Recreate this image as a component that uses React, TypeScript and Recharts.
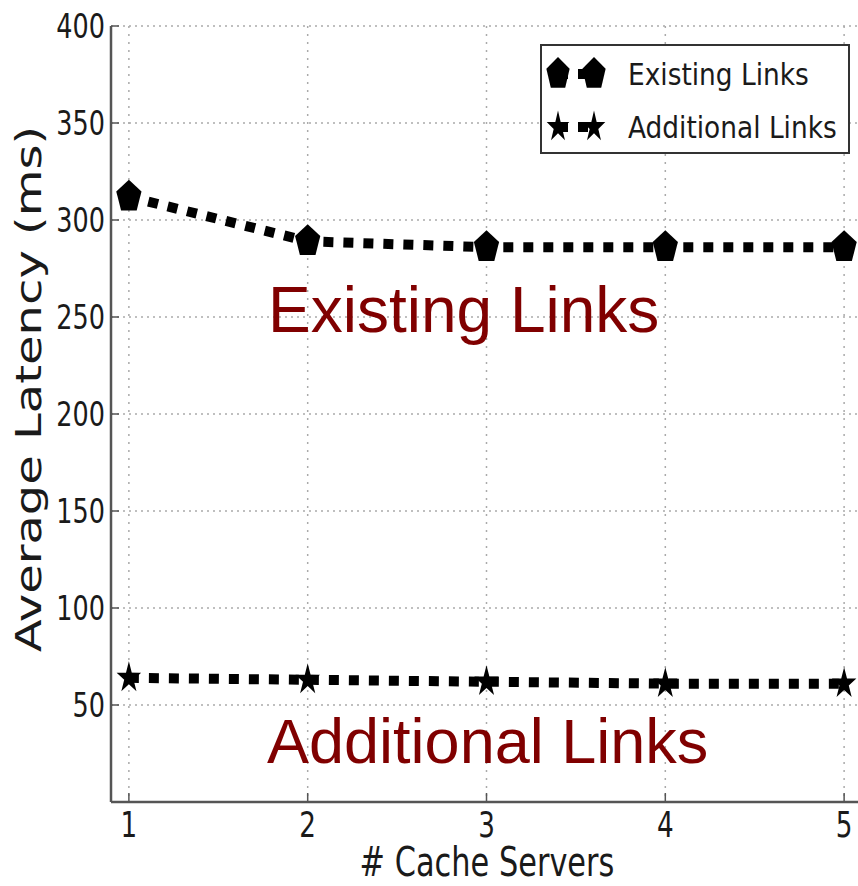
import React from "react";
import { LineChart, Line, XAxis, YAxis, CartesianGrid, Legend } from "recharts";

// values
const servers = [1, 2, 3, 4, 5];
const existingLinks = [312, 289, 286, 286, 286];
const additionalLinks = [64, 63, 62, 61, 61];
const xTicks = [1, 2, 3, 4, 5];
const yTicks = [50, 100, 150, 200, 250, 300, 350, 400];
const legendOrder = ["existing", "additional"];

const data = servers.map((s, i) => ({
  servers: s,
  existing: existingLinks[i],
  additional: additionalLinks[i],
}));

const AXIS_FONT = "'DejaVu Sans', sans-serif";
const SPINE = "#555";
const INK = "#1a1a1a";

function shapePath(cx: number, cy: number, r: number, sx: number, star: boolean) {
  const n = star ? 10 : 5;
  const pts: string[] = [];
  for (let k = 0; k < n; k++) {
    const a = (-90 + (k * 360) / n) * (Math.PI / 180);
    const rr = star && k % 2 === 1 ? r * 0.382 : r;
    pts.push(`${(cx + rr * Math.cos(a) * sx).toFixed(2)},${(cy + rr * Math.sin(a)).toFixed(2)}`);
  }
  return `M${pts.join("L")}Z`;
}

const Pentagon = (props: any) => {
  const { cx, cy, index } = props;
  if (cx == null || cy == null) return null;
  return <path key={`p-${index}`} d={shapePath(cx, cy, 17, 0.78, false)} fill="#000" />;
};

const Star = (props: any) => {
  const { cx, cy, index } = props;
  if (cx == null || cy == null) return null;
  return <path key={`s-${index}`} d={shapePath(cx, cy, 16.5, 0.78, true)} fill="#000" />;
};

const YTick = (props: any) => {
  const { x, y, payload } = props;
  return (
    <g>
      <line x1={x} x2={x + 8} y1={y} y2={y} stroke={SPINE} strokeWidth={1.5} />
      <text
        transform={`translate(${x - 6},${y}) scale(0.75,1)`}
        textAnchor="end"
        dominantBaseline="central"
        fontSize={34}
        fontFamily={AXIS_FONT}
        fill={INK}
      >
        {payload.value}
      </text>
    </g>
  );
};

const XTick = (props: any) => {
  const { x, y, payload } = props;
  return (
    <g>
      <line x1={x} x2={x} y1={y} y2={y - 9} stroke={SPINE} strokeWidth={1.5} />
      <text
        transform={`translate(${x},${y + 35}) scale(0.75,1)`}
        textAnchor="middle"
        fontSize={35}
        fontFamily={AXIS_FONT}
        fill={INK}
      >
        {payload.value}
      </text>
    </g>
  );
};

const TopTick = (props: any) => {
  const { x, y } = props;
  return <line x1={x} x2={x} y1={y} y2={y + 9} stroke={SPINE} strokeWidth={1.5} />;
};

const LegendBox = (props: any) => {
  const items = legendOrder
    .map((key) => (props.payload || []).find((p: any) => p.dataKey === key))
    .filter(Boolean);
  return (
    <svg width={310} height={110} style={{ display: "block" }}>
      <rect x={1} y={1} width={308} height={108} fill="#fff" stroke="#333" strokeWidth={2} />
      {items.map((item: any, i: number) => {
        const cy = 30 + i * 53;
        const star = item.dataKey === "additional";
        return (
          <g key={item.dataKey}>
            <line x1={18} x2={54} y1={cy} y2={cy} stroke="#000" strokeWidth={10} strokeDasharray="10 10" />
            <path d={shapePath(18, cy, star ? 16.5 : 17, 0.72, star)} fill="#000" />
            <path d={shapePath(54, cy, star ? 16.5 : 17, 0.72, star)} fill="#000" />
            <text
              transform={`translate(88,${cy + 11}) scale(0.88,1)`}
              fontSize={30}
              fontFamily={AXIS_FONT}
              fill={INK}
            >
              {item.value}
            </text>
          </g>
        );
      })}
    </svg>
  );
};

export default function App() {
  return (
    <div style={{ position: "absolute", left: 0, top: 0, width: 858, height: 886, overflow: "hidden", background: "#fff" }}>
      <LineChart width={862} height={886} data={data} margin={{ top: 26, right: 0, bottom: 0, left: 0 }}>
        <CartesianGrid horizontal={false} stroke="#aaa" strokeDasharray="2 6" strokeWidth={1.5} />
        <CartesianGrid vertical={false} stroke="#aaa" strokeDasharray="2 4" strokeWidth={1.5} />
        <XAxis
          dataKey="servers"
          type="number"
          domain={[0.9, 5.1]}
          ticks={xTicks}
          allowDataOverflow
          height={84}
          tickSize={0}
          tickMargin={0}
          tickLine={false}
          tick={XTick}
          axisLine={{ stroke: SPINE, strokeWidth: 2.5 }}
        />
        <XAxis
          xAxisId="top"
          orientation="top"
          dataKey="servers"
          type="number"
          domain={[0.9, 5.1]}
          ticks={xTicks}
          allowDataOverflow
          height={0}
          tickSize={0}
          tickMargin={0}
          tickLine={false}
          tick={TopTick}
          axisLine={{ stroke: SPINE, strokeWidth: 2.5 }}
        />
        <YAxis
          type="number"
          domain={[0, 400]}
          ticks={yTicks}
          width={111}
          tickSize={0}
          tickMargin={0}
          tickLine={false}
          tick={YTick}
          axisLine={{ stroke: SPINE, strokeWidth: 2.5 }}
        />
        <Line
          type="linear"
          dataKey="existing"
          name="Existing Links"
          stroke="#000"
          strokeWidth={10}
          strokeDasharray="10 10"
          dot={Pentagon}
          activeDot={false}
          isAnimationActive={false}
        />
        <Line
          type="linear"
          dataKey="additional"
          name="Additional Links"
          stroke="#000"
          strokeWidth={10}
          strokeDasharray="10 10"
          dot={Star}
          activeDot={false}
          isAnimationActive={false}
        />
        <Legend
          layout="horizontal"
          verticalAlign="middle"
          align="center"
          content={LegendBox}
          wrapperStyle={{ left: 540, top: 44, width: 310, height: 110 }}
        />
      </LineChart>
      <svg
        width={858}
        height={886}
        style={{ position: "absolute", left: 0, top: 0, pointerEvents: "none" }}
      >
        <text
          transform="translate(41,389) scale(0.74,1) rotate(-90)"
          textAnchor="middle"
          fontSize={48}
          fontFamily={AXIS_FONT}
          fill={INK}
        >
          Average Latency (ms)
        </text>
        <text
          transform="translate(487,876) scale(0.76,1)"
          textAnchor="middle"
          fontSize={40}
          fontFamily={AXIS_FONT}
          fill={INK}
        >
          # Cache Servers
        </text>
        <text x={268} y={332} fontSize={64} fontFamily="'Liberation Sans', Arial, sans-serif" fill="#800000">
          Existing Links
        </text>
        <text x={267} y={763} fontSize={63} fontFamily="'Liberation Sans', Arial, sans-serif" fill="#800000">
          Additional Links
        </text>
      </svg>
    </div>
  );
}
